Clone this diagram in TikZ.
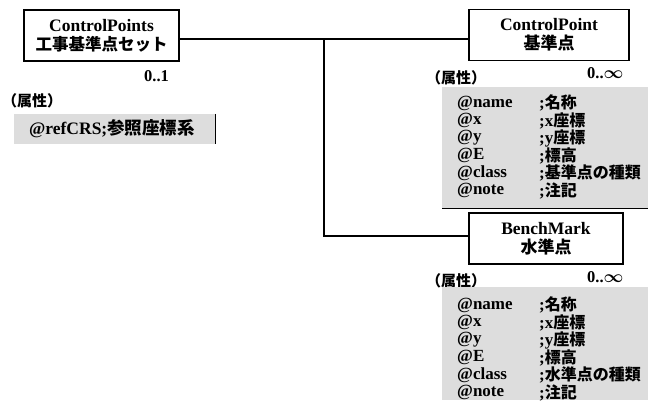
\documentclass[tikz,border=0pt]{standalone}
\usepackage{fontspec}
\setmainfont{Liberation Serif}
\newfontfamily\jp{Noto Sans CJK JP}
\newcommand\J[1]{{\jp\bfseries #1}}
\newcommand\JR[1]{{\jp\bfseries\fontsize{16}{16}\selectfont #1}}
\newcommand\infsym{{\boldmath$\infty$}}
\definecolor{attrgray}{RGB}{221,221,221}
\tikzset{
  classbox/.style={draw=black, line width=1.2pt, minimum height=51pt, align=center, inner sep=0pt, font=\bfseries\fontsize{17.5}{22}\selectfont},
  rowtxt/.style={anchor=west, inner sep=0pt, font=\bfseries\fontsize{17}{16}\selectfont},
  lbl/.style={anchor=west, inner sep=0pt, font=\bfseries\fontsize{15}{16}\selectfont},
  mult/.style={anchor=west, inner sep=0pt, font=\bfseries\fontsize{16.5}{16}\selectfont},
  conn/.style={line width=1.2pt}
}
\begin{document}
\begin{tikzpicture}[x=1pt,y=-1pt]
\useasboundingbox (0,0) rectangle (648,409);

% ControlPoints
\node[classbox, minimum width=155pt] (cps) at (101.5,35.5) {ControlPoints\\[-3pt]\J{\fontsize{16.5}{20}\selectfont 工事基準点セット}};
\node[mult] (m1) at (144,76) {0..1};
\node[lbl] (l1) at (2,101) {\J{（属性）}};
\fill[attrgray] (14,114) rectangle (215,144);
\draw[line width=0.8pt] (215,114) -- (215,144);
\node[inner sep=0pt, font=\bfseries\fontsize{17.5}{17}\selectfont] (refcrs) at (112,129) {@refCRS;\J{参照座標系}};

% ControlPoint
\node[classbox, minimum width=160pt] (cp) at (549,35) {ControlPoint\\[-3pt]\J{\fontsize{17}{20}\selectfont 基準点}};
\node[lbl] (l2) at (426,78) {\J{（属性）}};
\node[mult] (m2) at (587,73) {0..\infsym};
\fill[attrgray] (442,87) rectangle (648,208);
\draw[line width=0.8pt] (442,208.5) -- (648,208.5);
\foreach \y/\a/\b [count=\i] in {103/@name/\JR{名称}, 120.5/@x/x\JR{座標}, 138/@y/y\JR{座標}, 155.5/@E/\JR{標高}, 173/@class/\JR{基準点の種類}, 190.5/@note/\JR{注記}}{
  \node[rowtxt] (cpa\i) at (457,\y) {\a};
  \node[rowtxt] (cpb\i) at (539,\y) {;\b};
}

% BenchMark
\node[classbox, minimum width=154pt] (bm) at (546,238.5) {BenchMark\\[-3pt]\J{\fontsize{17}{20}\selectfont 水準点}};
\node[lbl] (l3) at (426,281) {\J{（属性）}};
\node[mult] (m3) at (587,277) {0..\infsym};
\fill[attrgray] (442,287) rectangle (648,400);
\foreach \y/\a/\b [count=\i] in {305/@name/\JR{名称}, 322.5/@x/x\JR{座標}, 340/@y/y\JR{座標}, 357.5/@E/\JR{標高}, 375/@class/\JR{水準点の種類}, 392.5/@note/\JR{注記}}{
  \node[rowtxt] (bma\i) at (457,\y) {\a};
  \node[rowtxt] (bmb\i) at (539,\y) {;\b};
}

% connectors
\coordinate (j1) at (324,39);
\coordinate (j2) at (324,236);
\draw[conn] (cps.east |- j1) -- (j1) -- (cp.west |- j1);
\draw[conn] (j1) -- (j2) -- (bm.west |- j2);
\end{tikzpicture}
\end{document}
